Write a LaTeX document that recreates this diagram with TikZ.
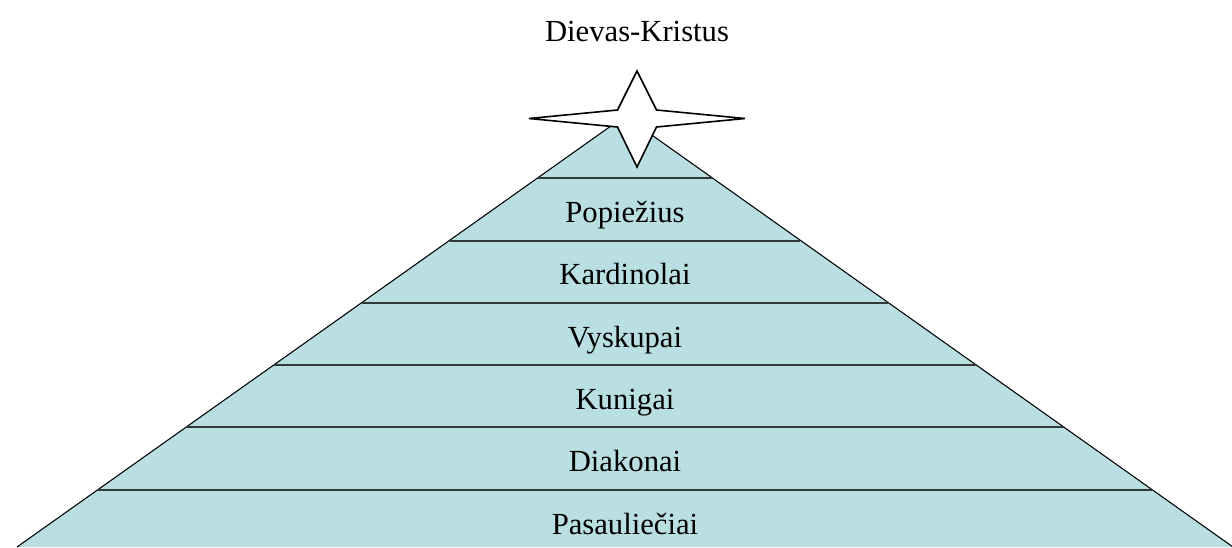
\documentclass[tikz,border=0pt]{standalone}
\usepackage{fontspec}
\setmainfont{Liberation Serif}
\definecolor{pyrfill}{RGB}{185,223,226}
\definecolor{pyrline}{RGB}{50,55,55}
\begin{document}
\begin{tikzpicture}[x=0.75pt,y=-0.75pt,
  lvl/.style={anchor=base,font=\fontsize{23}{27}\selectfont,inner sep=0pt},
  sep/.style={draw=pyrline,line width=1.4pt},
  edge/.style={draw=black,line width=0.8pt}]
\useasboundingbox (0,0) rectangle (1232,547);
\begin{scope}
\clip (0,0) rectangle (1232,547);
\fill[pyrfill] (625,116) -- (1233,547) -- (17,547) -- cycle;
\draw[edge] (17,547) -- (625,116) -- (1233,547);
\foreach \y/\h in {178/87,241/175,303/263,365/351,427/439,490/528}{
  \draw[sep] ({625-\h},\y) -- ({625+\h},\y);
}
\end{scope}
\draw[fill=white,line width=1.2pt,line join=miter]
  (637,71) -- (656.5,110) -- (745,118.5) -- (656.5,127) -- (637,167)
  -- (617.5,127) -- (529,118.5) -- (617.5,110) -- cycle;
\node[lvl] (top) at (637,41) {Dievas-Kristus};
\node[lvl] (l1) at (625,222) {Popiežius};
\node[lvl] (l2) at (625,284) {Kardinolai};
\node[lvl] (l3) at (625,347) {Vyskupai};
\node[lvl] (l4) at (625,409) {Kunigai};
\node[lvl] (l5) at (625,471) {Diakonai};
\node[lvl] (l6) at (625,534) {Pasauliečiai};
\end{tikzpicture}
\end{document}
